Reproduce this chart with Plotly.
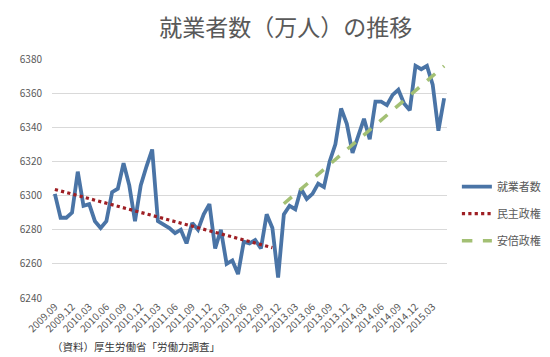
import plotly.graph_objects as go

months = [
    "2009.09", "2009.10", "2009.11", "2009.12",
    "2010.01", "2010.02", "2010.03", "2010.04", "2010.05", "2010.06",
    "2010.07", "2010.08", "2010.09", "2010.10", "2010.11", "2010.12",
    "2011.01", "2011.02", "2011.03", "2011.04", "2011.05", "2011.06",
    "2011.07", "2011.08", "2011.09", "2011.10", "2011.11", "2011.12",
    "2012.01", "2012.02", "2012.03", "2012.04", "2012.05", "2012.06",
    "2012.07", "2012.08", "2012.09", "2012.10", "2012.11", "2012.12",
    "2013.01", "2013.02", "2013.03", "2013.04", "2013.05", "2013.06",
    "2013.07", "2013.08", "2013.09", "2013.10", "2013.11", "2013.12",
    "2014.01", "2014.02", "2014.03", "2014.04", "2014.05", "2014.06",
    "2014.07", "2014.08", "2014.09", "2014.10", "2014.11", "2014.12",
    "2015.01", "2015.02", "2015.03", "2015.04", "2015.05",
]

employed = [
    6301, 6287, 6287, 6290,
    6314, 6294, 6295, 6285, 6281, 6285,
    6302, 6304, 6319, 6306, 6285, 6306,
    6317, 6327, 6285, 6283, 6281, 6278,
    6280, 6272, 6284, 6280, 6289, 6295,
    6269, 6280, 6260, 6262, 6254, 6273,
    6272, 6274, 6269, 6289, 6281, 6252,
    6289, 6294, 6292, 6304, 6298, 6301,
    6307, 6305, 6320, 6330, 6351, 6342,
    6325, 6335, 6345, 6333, 6355, 6355,
    6353, 6359, 6362, 6354, 6350, 6376,
    6374, 6376, 6365, 6338, 6357,
]

dpj_x = ["2009.09", "2012.11"]
dpj_y = [6303.6, 6269.5]
abe_x = ["2013.01", "2015.05"]
abe_y = [6295.2, 6375.9]

tick_labels = [
    "2009.09", "2009.12", "2010.03", "2010.06", "2010.09", "2010.12",
    "2011.03", "2011.06", "2011.09", "2011.12", "2012.03", "2012.06",
    "2012.09", "2012.12", "2013.03", "2013.06", "2013.09", "2013.12",
    "2014.03", "2014.06", "2014.09", "2014.12", "2015.03",
]
y_ticks = [6240, 6260, 6280, 6300, 6320, 6340, 6360, 6380]

FONT = "Noto Sans CJK JP"

fig = go.Figure()
fig.add_trace(go.Scatter(
    x=months, y=employed, mode="lines", name="就業者数",
    line=dict(color="#4A74A6", width=3.8), legendgroup="a",
))
fig.add_trace(go.Scatter(
    x=dpj_x, y=dpj_y, mode="lines", name="民主政権",
    line=dict(color="#9E1F24", width=3.2, dash="dot"), legendgroup="b",
))
fig.add_trace(go.Scatter(
    x=abe_x, y=abe_y, mode="lines", name="安倍政権",
    line=dict(color="#A3C074", width=3.5, dash="dash"), legendgroup="c",
))

fig.update_layout(
    width=550, height=357,
    margin=dict(l=37, r=92, t=51, b=67),
    paper_bgcolor="white", plot_bgcolor="white",
    font=dict(family=FONT, color="#595959", size=10),
    title=dict(
        text="就業者数（万人）の推移", x=0.505, xanchor="center",
        y=0.945, yanchor="middle",
        font=dict(family=FONT, size=23, color="#595959"),
    ),
    showlegend=True,
    legend=dict(
        x=1.025, xanchor="left", y=0.353, yanchor="middle",
        font=dict(family=FONT, size=11, color="#595959"),
        traceorder="grouped", tracegroupgap=8,
        bgcolor="rgba(0,0,0,0)",
    ),
    annotations=[dict(
        text="（資料）厚生労働省「労働力調査」", xref="paper", yref="paper",
        x=-0.005, y=-0.205, xanchor="left", yanchor="middle", showarrow=False,
        font=dict(family=FONT, size=10.5, color="#333333"),
    )],
)
fig.update_xaxes(
    type="category", categoryorder="array", categoryarray=months,
    range=[-0.5, len(months) - 0.5],
    tickmode="array", tickvals=tick_labels, ticktext=tick_labels,
    tickangle=-45, tickfont=dict(size=10, color="#595959"),
    showgrid=False, showline=False, ticks="", zeroline=False,
)
fig.update_yaxes(
    range=[6240, 6380], tickmode="array", tickvals=y_ticks,
    tickfont=dict(size=10, color="#595959"),
    showgrid=True, gridcolor="#D9D9D9", gridwidth=1,
    zeroline=False, showline=False, ticks="", ticklabelstandoff=9,
)

fig.write_html("out.html")
